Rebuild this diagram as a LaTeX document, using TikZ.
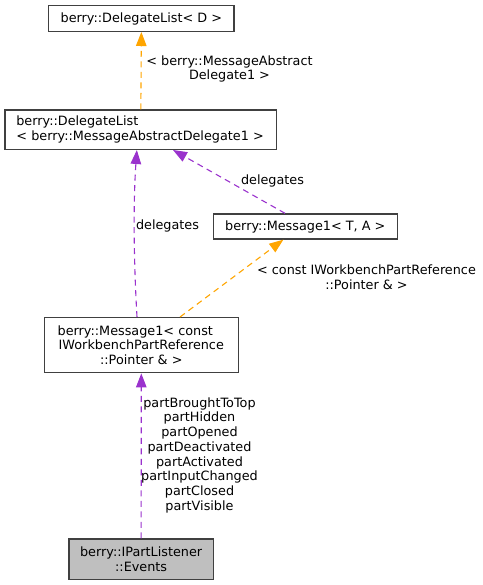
\documentclass[tikz,border=0pt]{standalone}
\usepackage{fontspec}
\setmainfont{DejaVu Sans}
\usetikzlibrary{arrows.meta}
\definecolor{edgeP}{HTML}{9A32CD}
\definecolor{edgeO}{HTML}{FFA500}
\definecolor{boxline}{HTML}{404040}
\definecolor{boxgray}{HTML}{BFBFBF}
\begin{document}
\begin{tikzpicture}[x=1bp,y=-1bp,
  font=\fontsize{12.8bp}{14.7bp}\selectfont,
  box/.style={draw=boxline, line width=1.4bp, inner sep=0pt, align=center, fill=white},
  pedge/.style={draw=edgeP, line width=1.1bp, dash pattern=on 6bp off 4.5bp, -{Triangle[length=14bp,width=10.5bp]}, color=edgeP},
  oedge/.style={draw=edgeO, line width=1.1bp, dash pattern=on 6bp off 4.5bp, -{Triangle[length=14bp,width=10.5bp]}, color=edgeO},
  lbl/.style={align=center, inner sep=0pt, text=black}]
\useasboundingbox (0,0) rectangle (483,585);
\node[box, minimum width=185.3bp, minimum height=25.6bp] (b1) at (141.35,18.5) {berry::DelegateList< D >};
\node[box, minimum width=271.7bp, minimum height=39.3bp, align=left, text width=249bp, inner xsep=11.3bp] (b2) at (140.85,129.65) {berry::DelegateList\\< berry::MessageAbstractDelegate1 >};
\node[box, minimum width=184bp, minimum height=25bp] (b3) at (305.3,226.5) {berry::Message1< T, A >};
\node[box, minimum width=194bp, minimum height=55bp] (b4) at (141.3,345.2) {berry::Message1< const\hspace*{12bp}\\IWorkbenchPartReference\\::Pointer \& >};
\node[box, fill=boxgray, minimum width=144.3bp, minimum height=40.3bp] (b5) at (141.15,559.15) {berry::IPartListener\\::Events};

\draw[oedge] (b2.north) -- (b1.south);
\draw[pedge] ([xshift=-20.3bp]b3.north) -- ([xshift=32.15bp]b2.south);
\draw[pedge] ([xshift=-4.3bp]b4.north) .. controls +(-3.5,-60) and +(-3.5,50) .. ([xshift=-4bp]b2.south);
\draw[oedge] ([xshift=38.7bp]b4.north) -- ([xshift=-22bp]b3.south);
\draw[pedge] (b5.north) -- (b4.south);

\node[lbl] (l1) at (229.5,69) {< berry::MessageAbstract\\Delegate1 >};
\node[lbl] (l2) at (272.5,181) {delegates};
\node[lbl] (l3) at (167.5,226) {delegates};
\node[lbl] (l4) at (366.5,277.5) {< const IWorkbenchPartReference\\::Pointer \& >};
\node[lbl] (l5) at (199.5,455.2) {partBroughtToTop\\partHidden\\partOpened\\partDeactivated\\partActivated\\partInputChanged\\partClosed\\partVisible};
\end{tikzpicture}
\end{document}
